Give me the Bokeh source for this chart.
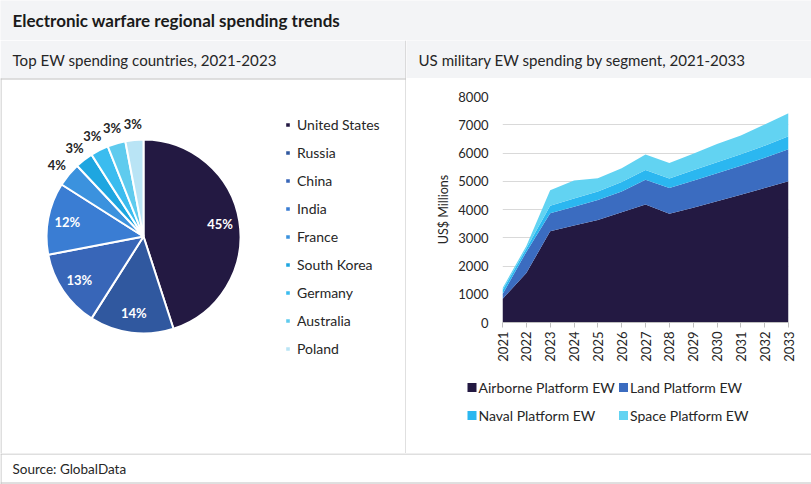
import numpy as np
from bokeh.plotting import figure
from bokeh.models import Range1d, Legend, LegendItem, FixedTicker, ColumnDataSource
from bokeh.layouts import column, row
from bokeh.embed import file_html
from bokeh.resources import INLINE
from bokeh.core.properties import value

# ---------------- data ----------------
title_text = "Electronic warfare regional spending trends"
left_title = "Top EW spending countries, 2021-2023"
right_title = "US military EW spending by segment, 2021-2033"
source_text = "Source: GlobalData"

countries = ["United States", "Russia", "China", "India", "France",
             "South Korea", "Germany", "Australia", "Poland"]
shares = [45, 14, 13, 12, 4, 3, 3, 3, 3]
country_colors = ["#231942", "#30589f", "#3866b8", "#3a7dd3", "#3b92de",
                  "#1ea6e0", "#3bbcef", "#5fcbee", "#b9e4f5"]

years = [2021, 2022, 2023, 2024, 2025, 2026, 2027, 2028, 2029, 2030, 2031, 2032, 2033]
airborne = [830, 1750, 3230, 3430, 3630, 3900, 4180, 3850, 4060, 4290, 4520, 4760, 5000]
land = [170, 750, 640, 670, 710, 740, 870, 910, 960, 990, 1030, 1070, 1130]
naval = [140, 120, 260, 290, 300, 330, 350, 340, 370, 390, 410, 430, 460]
space = [75, 90, 550, 640, 470, 490, 550, 550, 580, 650, 660, 750, 820]
segments = ["Airborne Platform EW", "Land Platform EW", "Naval Platform EW", "Space Platform EW"]
segment_colors = ["#231942", "#3b6cc0", "#2bb7f0", "#62d3f2"]
y_ticks = [0, 1000, 2000, 3000, 4000, 5000, 6000, 7000, 8000]

# ---------------- style ----------------
FONT = "Lato"
BG = "#f3f4f6"
LINE = "#c0c0c0"
TXT = "#262626"


def deco_fig(w, h, bg):
    p = figure(width=w, height=h, x_range=Range1d(0, w), y_range=Range1d(0, h),
               output_backend="svg", toolbar_location=None, min_border=0,
               x_axis_type=None, y_axis_type=None,
               background_fill_color=bg, border_fill_color=bg, outline_line_color=None)
    p.grid.visible = False
    return p


# title band
tf = deco_fig(811, 40, BG)
tf.text(x=[12], y=[20], text=[title_text], text_font=value(FONT), text_font_size="17px",
        text_font_style="bold", text_baseline="middle", text_color="#1a1a1a")

# left panel (header + pie)
lf = deco_fig(406, 413, "white")
lf.quad(left=[0], right=[406], bottom=[375], top=[413], fill_color=BG, line_color=None)
lf.text(x=[12], y=[394], text=[left_title], text_font=value(FONT), text_font_size="15.1px",
        text_baseline="middle", text_color=TXT)
lf.segment(x0=[0], y0=[374.5], x1=[406], y1=[374.5], line_color=LINE, line_width=1)
lf.segment(x0=[405.5], y0=[0], x1=[405.5], y1=[413], line_color=LINE, line_width=1)
lf.segment(x0=[0.5], y0=[0], x1=[0.5], y1=[375], line_color=LINE, line_width=1)

cx, cy, R = 143, 217, 97
frac = np.array(shares, dtype=float) / sum(shares)
cum = np.concatenate([[0.0], np.cumsum(frac)])
start = np.pi / 2 - 2 * np.pi * cum[:-1]
end = np.pi / 2 - 2 * np.pi * cum[1:]
mid = (start + end) / 2
pie_src = ColumnDataSource(dict(start=start, end=end, color=country_colors, name=countries))
wr = lf.wedge(x=cx, y=cy, radius=R, start_angle="start", end_angle="end", direction="clock",
              fill_color="color", line_color="white", line_width=2, source=pie_src)

inside = np.array(shares) >= 10
rl = np.where(inside, 0.8 * R, 1.16 * R)
lx = cx + rl * np.cos(mid)
ly = cy + rl * np.sin(mid)
labels = [f"{s}%" for s in shares]
lf.text(x=lx[inside], y=ly[inside], text=[l for l, i in zip(labels, inside) if i],
        text_font=value(FONT), text_font_size="13px", text_font_style="bold",
        text_align="center", text_baseline="middle", text_color="white")
lf.text(x=lx[~inside], y=ly[~inside], text=[l for l, i in zip(labels, inside) if not i],
        text_font=value(FONT), text_font_size="13px", text_font_style="bold",
        text_align="center", text_baseline="middle", text_color=TXT)

pie_leg = Legend(items=[LegendItem(label=c, renderers=[wr], index=i) for i, c in enumerate(countries)],
                 location=(284, 95), glyph_width=7, glyph_height=7, label_standoff=6,
                 label_height=20, spacing=8, padding=0, margin=0,
                 border_line_color=None, background_fill_alpha=0,
                 label_text_font=FONT, label_text_font_size="14px", label_text_color=TXT)
lf.add_layout(pie_leg)

# right header
rh = deco_fig(405, 38, BG)
rh.text(x=[12], y=[19], text=[right_title], text_font=value(FONT), text_font_size="15.1px",
        text_baseline="middle", text_color=TXT)

# right chart
rc = figure(width=405, height=292, x_range=Range1d(2021, 2033), y_range=Range1d(0, 8000),
            output_backend="svg", toolbar_location=None,
            min_border_left=96, min_border_right=23, min_border_top=18, min_border_bottom=48,
            background_fill_color="white", border_fill_color="white", outline_line_color=None)
src = ColumnDataSource(dict(year=years, a=airborne, l=land, n=naval, s=space))
areas = rc.varea_stack(stackers=["a", "l", "n", "s"], x="year", color=segment_colors, source=src)

rc.xgrid.visible = False
rc.ygrid.ticker = FixedTicker(ticks=y_ticks[1:])
rc.ygrid.grid_line_color = "#d9d9d9"

rc.yaxis.ticker = FixedTicker(ticks=y_ticks)
rc.yaxis.axis_line_color = None
rc.yaxis.major_tick_line_color = None
rc.yaxis.minor_tick_line_color = None
rc.yaxis.major_tick_out = 0
rc.yaxis.major_tick_in = 0
rc.yaxis.minor_tick_out = 0
rc.yaxis.major_label_standoff = 14
rc.yaxis.major_label_text_font = FONT
rc.yaxis.major_label_text_font_size = "13px"
rc.yaxis.major_label_text_color = TXT
rc.yaxis.axis_label = "US$ Millions"
rc.yaxis.axis_label_text_font = FONT
rc.yaxis.axis_label_text_font_size = "12.5px"
rc.yaxis.axis_label_text_font_style = "normal"
rc.yaxis.axis_label_text_color = TXT
rc.yaxis.axis_label_standoff = 4

rc.xaxis.ticker = FixedTicker(ticks=years)
rc.xaxis.major_label_orientation = np.pi / 2
rc.xaxis.axis_line_color = "#bfbfbf"
rc.xaxis.major_tick_line_color = "#bfbfbf"
rc.xaxis.major_tick_out = 5
rc.xaxis.major_tick_in = 0
rc.xaxis.minor_tick_line_color = None
rc.xaxis.major_label_standoff = 4
rc.xaxis.major_label_text_font = FONT
rc.xaxis.major_label_text_font_size = "13px"
rc.xaxis.major_label_text_color = TXT

# legend of the area chart (drawn below the chart, 2 columns x 2 rows)
lg = deco_fig(405, 83, "white")
idx = np.arange(len(segments))
col_i = idx % 2
row_i = idx // 2
sq_x = 65.5 + col_i * 151.5
sq_y = 66 - row_i * 28
lg.rect(x=sq_x, y=sq_y, width=9, height=9, fill_color=segment_colors, line_color=None)
lg.text(x=sq_x + 6.5, y=sq_y, text=segments, text_font=value(FONT), text_font_size="14px",
        text_baseline="middle", text_color=TXT)

# source band
sf = deco_fig(811, 31, "white")
sf.text(x=[12], y=[16], text=[source_text], text_font=value(FONT), text_font_size="13.5px",
        text_baseline="middle", text_color=TXT)
sf.segment(x0=[0], y0=[30.5], x1=[811], y1=[30.5], line_color=LINE, line_width=1)
sf.segment(x0=[0], y0=[1.5], x1=[811], y1=[1.5], line_color=LINE, line_width=1)
sf.segment(x0=[0.5], y0=[0], x1=[0.5], y1=[31], line_color=LINE, line_width=1)

right = column(row(rh, spacing=0), rc, row(lg, spacing=0), spacing=0)
layout = column(tf, row(lf, right, spacing=0), sf, spacing=0)

with open("out.html", "w") as f:
    f.write(file_html(layout, INLINE))
